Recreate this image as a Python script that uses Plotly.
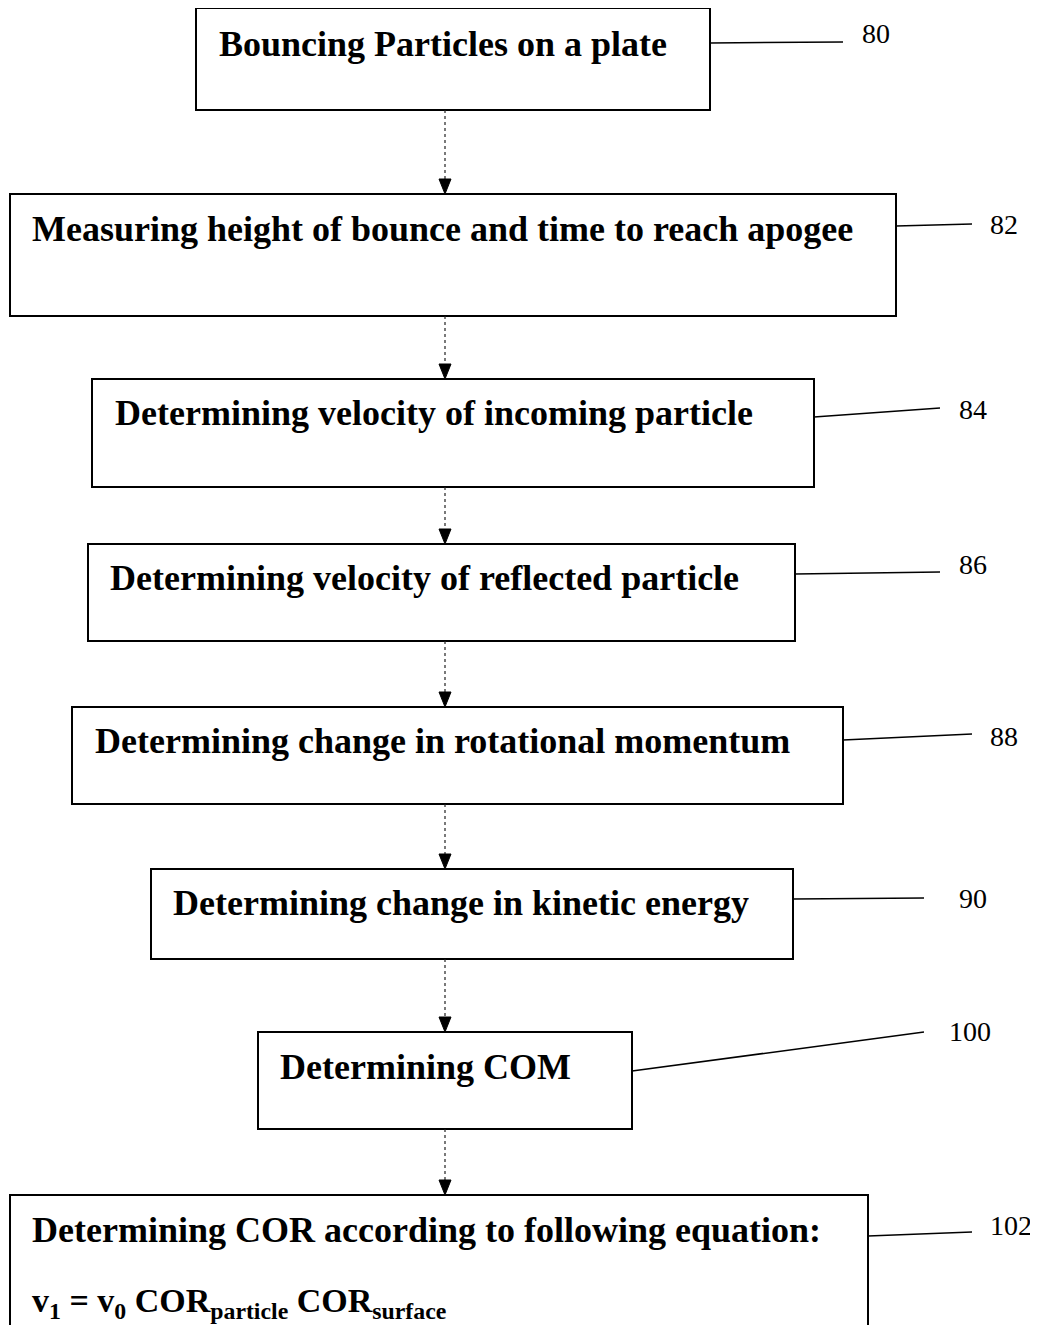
import plotly.graph_objects as go

# ---- content ----
step_texts = [
    "Bouncing Particles on a plate",
    "Measuring height of bounce and time to reach apogee",
    "Determining velocity of incoming particle",
    "Determining velocity of reflected particle",
    "Determining change in rotational momentum",
    "Determining change in kinetic energy",
    "Determining COM",
    "Determining COR according to following equation:",
]
ref_labels = ["80", "82", "84", "86", "88", "90", "100", "102"]
equation_text = "v<sub>1</sub> = v<sub>0</sub> COR<sub>particle</sub> COR<sub>surface</sub>"

# ---- geometry (pixels in a 1038 x 1325 canvas, y downward) ----
box_left = [196, 10, 92, 88, 72, 151, 258, 10]
box_right = [710, 896, 814, 795, 843, 793, 632, 868]
box_top = [8, 194, 379, 544, 707, 869, 1032, 1195]
box_bottom = [110, 316, 487, 641, 804, 959, 1129, 1345]
text_x = [217, 30, 113, 108, 93, 171, 278, 30]
text_y = [44, 229, 413, 578, 741, 903, 1067, 1230]
lead_x0 = box_right
lead_y0 = [43, 226, 417, 574, 740, 899, 1071, 1236]
lead_x1 = [843, 972, 940, 940, 972, 924, 924, 972]
lead_y1 = [42, 224, 408, 572, 734, 898, 1032, 1232]
lab_x = [876, 1004, 973, 973, 1004, 973, 970, 1011]
lab_y = [33, 224, 409, 564, 736, 898, 1031, 1225]
arrow_x = 445
eq_x, eq_y = 30, 1303

W, H = 1038, 1325
PAD = 8  # page body margin
FONT = "Liberation Serif"

fig = go.Figure()
fig.add_trace(go.Scatter(x=[PAD, W], y=[PAD, H], mode="markers",
                         marker=dict(opacity=0), hoverinfo="skip", showlegend=False))

shapes = []
annotations = []
for i in range(len(step_texts)):
    shapes.append(dict(type="rect", xref="x", yref="y",
                       x0=box_left[i], x1=box_right[i], y0=box_top[i], y1=box_bottom[i],
                       line=dict(color="black", width=2), fillcolor="white", layer="below"))
    annotations.append(dict(x=text_x[i], y=text_y[i], xref="x", yref="y",
                            text="<b>" + step_texts[i] + "</b>", showarrow=False,
                            xanchor="left", yanchor="middle",
                            font=dict(family=FONT, size=36, color="black")))
    shapes.append(dict(type="line", xref="x", yref="y",
                       x0=lead_x0[i], y0=lead_y0[i], x1=lead_x1[i], y1=lead_y1[i],
                       line=dict(color="black", width=1.5)))
    annotations.append(dict(x=lab_x[i], y=lab_y[i], xref="x", yref="y",
                            text=ref_labels[i], showarrow=False,
                            xanchor="center", yanchor="middle",
                            font=dict(family=FONT, size=28, color="black")))
    if i < len(step_texts) - 1:
        y_start = box_bottom[i]
        y_end = box_top[i + 1]
        shapes.append(dict(type="line", xref="x", yref="y",
                           x0=arrow_x, x1=arrow_x, y0=y_start, y1=y_end - 14,
                           line=dict(color="#222", width=1.2, dash="dot")))
        shapes.append(dict(type="path", xref="x", yref="y",
                           path=f"M {arrow_x-6},{y_end-15} L {arrow_x+6},{y_end-15} L {arrow_x},{y_end} Z",
                           fillcolor="black", line=dict(color="black", width=1)))

annotations.append(dict(x=eq_x, y=eq_y, xref="x", yref="y",
                        text="<b>" + equation_text + "</b>", showarrow=False,
                        xanchor="left", yanchor="middle",
                        font=dict(family=FONT, size=34, color="black")))

fig.update_layout(
    width=W - PAD, height=H - PAD,
    margin=dict(l=0, r=0, t=0, b=0),
    paper_bgcolor="white", plot_bgcolor="white",
    xaxis=dict(range=[PAD, W], visible=False, fixedrange=True),
    yaxis=dict(range=[H, PAD], visible=False, fixedrange=True),
    shapes=shapes, annotations=annotations,
    showlegend=False,
)
fig.write_html("out.html")
